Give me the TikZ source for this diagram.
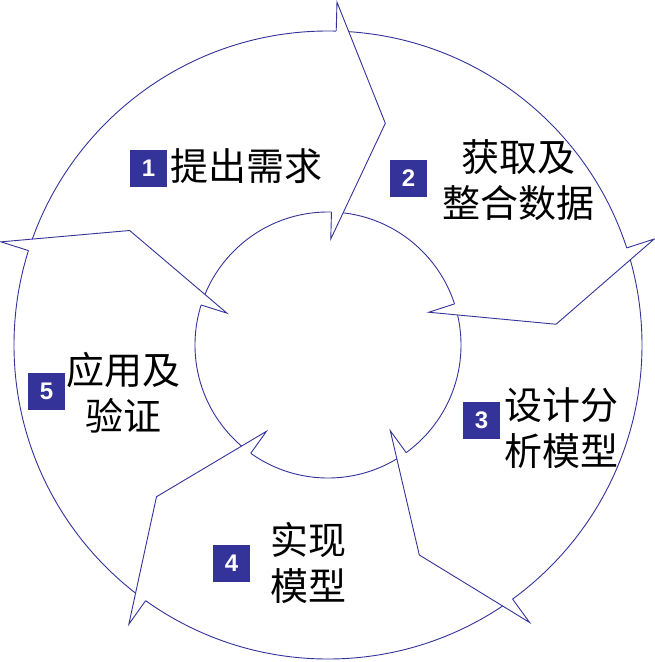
\documentclass[tikz,border=0pt]{standalone}
\usepackage{fontspec}
\newfontfamily\cjk{Noto Sans CJK SC}
\newfontfamily\numfont{Liberation Sans}
\definecolor{ringblue}{RGB}{51,51,153}
\begin{document}
\begin{tikzpicture}[x=1pt,y=1pt,
  ringline/.style={draw=ringblue, line width=0.9pt, line join=miter},
  numbox/.style={fill=ringblue, minimum size=37pt, inner sep=0pt, text=white,
    font=\numfont\bfseries\fontsize{24}{24}\selectfont},
  cjktext/.style={align=center, inner sep=0pt, font=\cjk\fontsize{38}{46}\selectfont}]
\useasboundingbox (-328,-317) rectangle (327,345);
\fill[white] (-328,-317) rectangle (327,345);
\coordinate (C) at (0,0);
\draw[ringline] (C) circle (314);
\draw[ringline] (C) circle (133);
\foreach \b/\t [count=\i] in {88.5/75.5,18/5.2,-54/-66.5,-125.5/-138.5,162.5/150}{
  \coordinate (ob\i) at (\b:343);
  \coordinate (tp\i) at (\t:229);
  \coordinate (ib\i) at (\b:106);
  \coordinate (oe\i) at (\b:314);
  \coordinate (ie\i) at (\b:133);
  \fill[white] (ob\i) -- (tp\i) -- (ib\i) -- cycle;
  \draw[ringline] (oe\i) -- (ob\i) -- (tp\i) -- (ib\i) -- (ie\i);
}
\node[numbox] (n1) at (-179.5,176.5) {1};
\node[cjktext] (t1) at (-81.5,178.5) {提出需求};
\node[numbox] (n2) at (80.5,166.5) {2};
\node[cjktext] (t2) at (191,164.5) {获取及\\整合数据};
\node[numbox] (n3) at (153.5,-75) {3};
\node[cjktext] (t3) at (233,-83) {设计分\\析模型};
\node[numbox] (n4) at (-96.5,-218.5) {4};
\node[cjktext] (t4) at (-19,-217.5) {实现\\模型};
\node[numbox] (n5) at (-281.5,-46.5) {5};
\node[cjktext] (t5) at (-204,-48) {应用及\\验证};
\end{tikzpicture}
\end{document}
